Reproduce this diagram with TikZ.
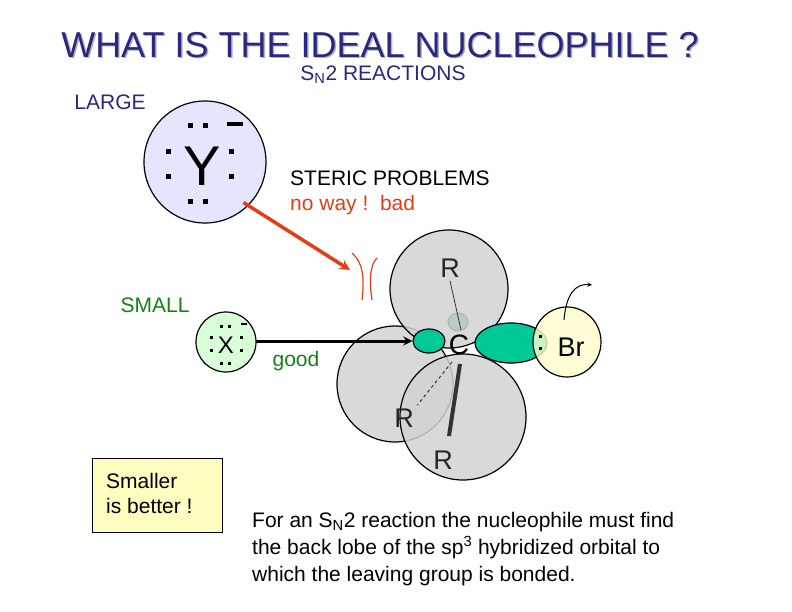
\documentclass[tikz,border=0pt]{standalone}
\usetikzlibrary{shapes.geometric}
\usepackage{fontspec}
\setmainfont{Liberation Sans}
\begin{document}
\begin{tikzpicture}[x=1pt,y=-1pt,
  ball/.style={draw=black,line width=1.2pt,fill=gray!35,fill opacity=0.85},
  lobe/.style={draw=black,line width=1.2pt,fill=lobec},
  dot/.style={fill=black,minimum size=5pt,inner sep=0pt},
  lbl/.style={inner sep=0pt,anchor=west}]
\useasboundingbox (0,0) rectangle (792,612);
\definecolor{ttl}{RGB}{40,40,130}
\definecolor{rd}{RGB}{230,60,20}
\definecolor{gr}{RGB}{20,130,20}
\definecolor{lobec}{RGB}{0,200,150}
% title
\node[text=gray!60,font=\fontsize{36}{40}\selectfont] at (381.5,46.5) {WHAT IS THE IDEAL NUCLEOPHILE ?};
\node[text=ttl,font=\fontsize{36}{40}\selectfont] (title) at (380,45) {WHAT IS THE IDEAL NUCLEOPHILE ?};
\node[text=ttl,font=\fontsize{21}{24}\selectfont] (sn) at (383,75) {S\textsubscript{N}2 REACTIONS};
\node[text=ttl,font=\fontsize{21}{24}\selectfont] (large) at (110,102) {LARGE};
\node[text=gr,font=\fontsize{21}{24}\selectfont] (small) at (155,305) {SMALL};
% Y
\node[circle,draw,line width=1.2pt,fill=blue!10,minimum size=122pt,inner sep=0pt] (Y) at (205,162) {};
\node[font=\fontsize{56}{56}\selectfont] (Yt) at (202,166) {Y};
\foreach \p in {(190,126),(205,126),(168,152),(168,177),(231,152),(231,177),(190,202),(205,202)} \node[dot] at \p {};
\draw[line width=3.5pt] (227,124) -- (243,124);
% X
\node[circle,draw,line width=1.2pt,fill=green!15,minimum size=60pt,inner sep=0pt] (X) at (226,342) {};
\node[font=\fontsize{24}{24}\selectfont] (Xt) at (226,345) {X};
\foreach \p in {(221,326),(229,326),(211,337),(211,350),(241,337),(241,350),(221,363),(229,363)} \node[dot,minimum size=3pt] at \p {};
\draw[line width=1.2pt] (241,324) -- (247,324);
% good arrow
\coordinate (ga) at (256,341);
\node[text=gr,font=\fontsize{21}{24}\selectfont] (good) at (296,361) {good};
% balls
\fill[lobec!70!gray,draw=black,line width=1pt] (458,322) ellipse (10 and 9);
\draw[ball] (395,384) circle (58);
\draw[ball] (449,289) circle (59);
\node[lobe,ellipse,minimum width=32pt,minimum height=24pt,inner sep=0pt] (lobeL) at (429,341) {};
\draw[lobe] (511,343) ellipse (36 and 20);
\draw[ball] (463,417) circle (63);
\draw[draw=black,line width=1.2pt,fill=yellow!20,fill opacity=0.8] (567,342) ellipse (34 and 35);
\node[font=\fontsize{28}{28}\selectfont] (C) at (459,345) {C};
\node[font=\fontsize{27}{27}\selectfont] (Br) at (571,347) {Br};
\node[dot,minimum size=3pt] at (540,336) {};
\node[dot,minimum size=3pt] at (540,348) {};
\node[text=gray!30!black,font=\fontsize{27}{27}\selectfont] (R1) at (450,268) {R};
\node[text=gray!30!black,font=\fontsize{27}{27}\selectfont] (R2) at (404,418) {R};
\node[text=gray!30!black,font=\fontsize{27}{27}\selectfont] (R3) at (443,460) {R};
\draw[gray!40!black,line width=0.8pt] (R1.south) -- (461,330);
\draw[gray!40!black,line width=1pt,dashed] (452,362) -- (R2.north east);
\draw[gray!40!black,line width=4pt] (460,364) -- (449,436);
\draw[-stealth,line width=3pt] (ga) -- (lobeL.west);
% leaving arrow
\coordinate (bt) at (592,285);
\draw[-stealth,line width=1pt] (564,320) .. controls (566,295) and (575,283) .. (bt);
% red arrow
\coordinate (rt) at (350,270);
\draw[rd,line width=3.5pt,-stealth] (Y.south east) ++(-5,-3) -- (rt);
\draw[rd,line width=1.2pt] (352,253) .. controls (362,262) and (365,275) .. (362,300);
\draw[rd,line width=1.2pt] (377,258) .. controls (370,265) and (369,280) .. (372,300);
\node[font=\fontsize{21}{24}\selectfont,lbl] (st) at (290,178) {STERIC PROBLEMS};
\node[text=rd,font=\fontsize{21}{24}\selectfont,lbl] (nw) at (290,205) {no way !\ \ bad};
% box
\node[draw,line width=1pt,fill=yellow!25,minimum width=130pt,minimum height=74pt,anchor=north west] (box) at (92,458) {};
\node[font=\fontsize{21}{25}\selectfont,align=left,anchor=north west,inner sep=0pt] at (106,473) {Smaller\\is better !};
\node[font=\fontsize{21}{27}\selectfont,align=left,anchor=north west,inner sep=0pt] (para) at (252,512) {For an S\textsubscript{N}2 reaction the nucleophile must find\\the back lobe of the sp\textsuperscript{3} hybridized orbital to\\which the leaving group is bonded.};
\end{tikzpicture}
\end{document}
